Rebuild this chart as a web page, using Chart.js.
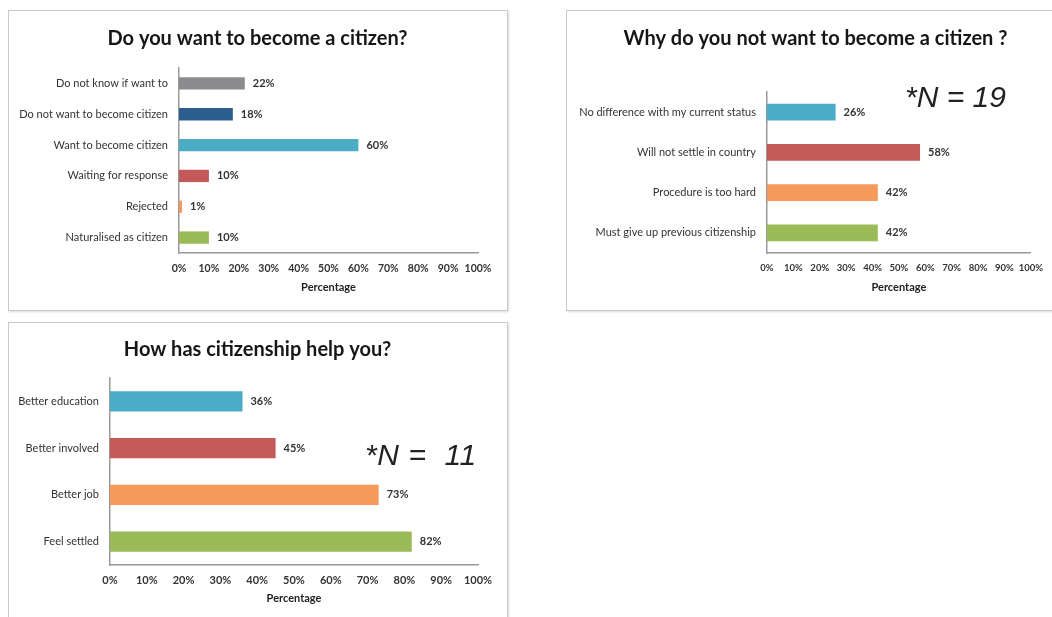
<!DOCTYPE html>
<html>
<head>
<meta charset="utf-8">
<script src="https://cdn.jsdelivr.net/npm/chart.js@4.4.1/dist/chart.umd.min.js"></script>
<style>
  body { margin: 0; background: #fff; width: 1052px; height: 617px; overflow: hidden; position: relative; }
  .panel { position: absolute; border: 1.5px solid #c9c9c9; box-shadow: 1px 1px 2px rgba(0,0,0,0.15); background: #fff; }
  canvas { position: absolute; }
  .n { position: absolute; font-family: "Liberation Sans", Arial, sans-serif; font-style: italic; font-size: 30px; color: #222; white-space: pre; line-height: 30px; }
</style>
</head>
<body>
<div class="panel" style="left:8px;top:10px;width:498px;height:299px;"></div>
<div class="panel" style="left:566px;top:10px;width:500px;height:299px;"></div>
<div class="panel" style="left:8px;top:322px;width:498px;height:310px;"></div>

<canvas id="c1" width="499" height="300" style="left:8px;top:10px;"></canvas>
<canvas id="c2" width="486" height="300" style="left:566px;top:10px;"></canvas>
<canvas id="c3" width="499" height="295" style="left:8px;top:322px;"></canvas>

<div class="n" style="left:905px;top:82px;">*N = 19</div>
<div class="n" style="left:365px;top:440px;letter-spacing:0.6px;">*N =  11</div>

<script>
// chart 1: Do you want to become a citizen?
const labels1 = ["Do not know if want to", "Do not want to become citizen", "Want to become citizen",
  "Waiting for response", "Rejected", "Naturalised as citizen"];
const values1 = [22, 18, 60, 10, 1, 10];

// chart 2: Why do you not want to become a citizen ?
const labels2 = ["No difference with my current status", "Will not settle in country",
  "Procedure is too hard", "Must give up previous citizenship"];
const values2 = [26, 58, 42, 42];

// chart 3: How has citizenship help you?
const labels3 = ["Better education", "Better involved", "Better job", "Feel settled"];
const values3 = [36, 45, 73, 82];

const xTicks = [0, 10, 20, 30, 40, 50, 60, 70, 80, 90, 100];

const GRAY = "#8c8c8e", NAVY = "#2c5d8f", TEAL = "#4bacc6", RED = "#c35a58", ORANGE = "#f59a5a", GREEN = "#9bbb59";
const colors1 = [GRAY, NAVY, TEAL, RED, ORANGE, GREEN];
const colors2 = [TEAL, RED, ORANGE, GREEN];
const colors3 = [TEAL, RED, ORANGE, GREEN];

const FONT = "Lato, 'Open Sans', sans-serif";

// percent labels right of each bar
const valueLabels = {
  id: "valueLabels",
  afterDatasetsDraw(chart) {
    const ctx = chart.ctx;
    const meta = chart.getDatasetMeta(0);
    const data = chart.data.datasets[0].data;
    ctx.save();
    ctx.font = "bold 11px " + FONT;
    ctx.fillStyle = "#333";
    ctx.textAlign = "left";
    ctx.textBaseline = "middle";
    meta.data.forEach((bar, i) => {
      ctx.fillText(data[i] + "%", bar.x + 8, bar.y);
    });
    ctx.restore();
  }
};

// title drawn at a fixed spot (the built-in one centres on the whole canvas)
const panelTitle = {
  id: "panelTitle",
  afterDraw(chart, args, opts) {
    const ctx = chart.ctx;
    ctx.save();
    ctx.font = "bold 20px " + FONT;
    ctx.fillStyle = "#161616";
    ctx.textAlign = "center";
    ctx.textBaseline = "alphabetic";
    ctx.fillText(opts.text, opts.x, opts.y);
    ctx.restore();
  }
};

function makeChart(id, title, labels, values, colors, cfg) {
  return new Chart(document.getElementById(id), {
    type: "bar",
    data: {
      labels: labels,
      datasets: [{
        data: values,
        backgroundColor: colors,
        barPercentage: cfg.bar,
        categoryPercentage: 1
      }]
    },
    options: {
      indexAxis: "y",
      responsive: false,
      animation: false,
      devicePixelRatio: 1,
      layout: { padding: { left: 0, right: cfg.padRight, top: cfg.top, bottom: 0 } },
      plugins: {
        legend: { display: false },
        tooltip: { enabled: false },
        title: { display: false },
        panelTitle: { text: title, x: 249.5, y: cfg.titleY }
      },
      scales: {
        x: {
          min: 0,
          max: 100,
          afterBuildTicks(scale) { scale.ticks = xTicks.map(v => ({ value: v })); },
          afterFit(scale) { scale.height = cfg.xHeight; },
          grid: { display: false, drawTicks: false },
          border: { display: true, color: "#9a9a9a", width: 1.5 },
          ticks: {
            padding: 9,
            color: "#333",
            maxRotation: 0,
            minRotation: 0,
            autoSkip: false,
            font: { family: FONT, size: cfg.tickSize, weight: "bold" },
            callback: v => v + "%"
          },
          title: {
            display: true,
            text: "Percentage",
            color: "#222",
            font: { family: FONT, size: 11, weight: "bold" },
            padding: { top: 0, bottom: cfg.xTitleBottom }
          }
        },
        y: {
          afterFit(scale) { scale.width = cfg.yWidth; },
          grid: { display: false, drawTicks: false },
          border: { display: true, color: "#9a9a9a", width: 1.5 },
          ticks: {
            padding: 11,
            color: "#333",
            font: { family: FONT, size: 11 }
          }
        }
      }
    },
    plugins: [valueLabels, panelTitle]
  });
}

makeChart("c1", "Do you want to become a citizen?", labels1, values1, colors1, {
  bar: 0.4, padRight: 29, yWidth: 171, top: 58, titleY: 34.5, xHeight: 57, xTitleBottom: 16, tickSize: 10.5
});
makeChart("c2", "Why do you not want to become a citizen ?", labels2, values2, colors2, {
  bar: 0.42, padRight: 17, yWidth: 201, top: 82, titleY: 34.5, xHeight: 57, xTitleBottom: 16, tickSize: 9.5
});
makeChart("c3", "How has citizenship help you?", labels3, values3, colors3, {
  bar: 0.43, padRight: 29, yWidth: 102, top: 56, titleY: 34, xHeight: 52, xTitleBottom: 12, tickSize: 11
});
</script>
</body>
</html>
